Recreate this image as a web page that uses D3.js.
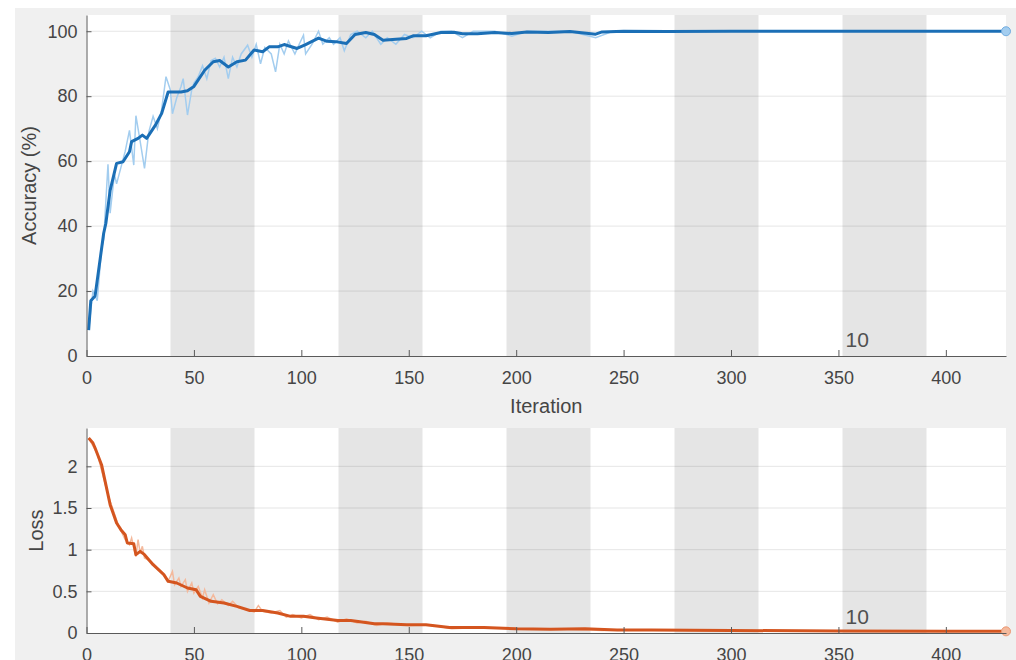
<!DOCTYPE html>
<html>
<head>
<meta charset="utf-8">
<script src="https://cdn.jsdelivr.net/npm/d3@7/dist/d3.min.js"></script>
<style>
    body { margin: 0; background: #fff; }
    text { font-family: "Liberation Sans", Arial, Helvetica, sans-serif; }
</style>
</head>
<body>
<script>

// iteration ticks and epoch bands (shaded = even epochs)
var xTicks = [0, 50, 100, 150, 200, 250, 300, 350, 400];
var bandStart = [39.1, 117.3, 195.5, 273.7, 351.9];
var bandEnd = [78.2, 156.4, 234.6, 312.8, 391];
var epochLabel = "10";
var lastIter = 428;

// accuracy, smoothed
var accIter = [1, 2, 4, 8, 9, 11, 14, 17, 20, 21, 24, 26, 28, 32, 35, 38, 44, 47, 50, 55,
    59, 62, 66, 70, 74, 78, 82, 85, 89, 92, 98, 102, 108, 112, 116, 121, 125, 130, 134, 138,
    144, 149, 152, 158, 165, 171, 175, 182, 190, 198, 205, 215, 225, 237, 240, 250, 270, 300, 350, 400, 428];
var accSmooth = [8, 17, 18.5, 37.8, 40.8, 51, 59.3, 59.8, 62.9, 66, 67, 68, 67, 71, 74.7, 81.3, 81.3, 81.7, 83, 88,
    90.6, 91, 89, 90.6, 91.1, 94.2, 93.7, 95.2, 95.2, 95.9, 94.7, 95.9, 97.9, 96.9, 96.8, 96.2, 99, 99.6, 99, 97.2,
    97.5, 97.8, 98.6, 98.6, 99.6, 99.7, 99.2, 99.2, 99.6, 99.3, 99.8, 99.6, 99.9, 99.1, 99.8, 100, 99.9, 100, 100, 100, 100];

// accuracy, raw
var accRawIter = [1, 3, 5, 7, 8, 10, 11, 12, 13, 14, 16, 18, 20, 22, 23, 25, 27, 29, 31, 33,
    35, 37, 39, 40, 42, 44, 45, 47, 49, 50, 52, 54, 56, 58, 60, 62, 64, 66, 68, 70,
    72, 75, 77, 79, 81, 83, 86, 88, 90, 92, 94, 97, 99, 101, 102, 105, 108, 110, 113, 115,
    118, 120, 123, 126, 130, 133, 137, 140, 144, 148, 152, 156, 160, 165, 170, 175, 180, 190, 198, 205,
    215, 225, 237, 245, 300, 428];
var accRaw = [8, 20, 17, 33, 36, 59, 44, 50, 56, 53, 58, 63, 69.5, 58.8, 74, 66, 57.8, 69, 73.8, 70,
    76, 86, 82, 74.6, 79.5, 83, 85.4, 74.2, 82, 84, 86, 89.4, 85.4, 91, 91.7, 89, 92, 85.4, 92, 89,
    93, 95.7, 92, 96, 90, 95, 93, 87.5, 96, 93, 97, 93, 96, 98.8, 93, 96, 100, 96, 98, 96,
    98, 94, 99, 100, 98, 100, 96, 98, 96, 99, 98, 100, 98, 100, 100, 98, 100, 100, 98.5, 100,
    100, 100, 98, 100, 100, 100];

// loss, smoothed
var lossIter = [1, 3, 4, 7, 9, 11, 14, 16, 18, 19, 22, 23, 25, 27, 31, 36, 38, 42, 47, 51,
    53, 58, 64, 70, 76, 82, 89, 95, 101, 107, 117, 123, 129, 134, 138, 149, 158, 169, 185, 200,
    216, 232, 247, 263, 300, 350, 400, 428];
var lossSmooth = [2.34, 2.28, 2.22, 2.02, 1.78, 1.54, 1.32, 1.24, 1.18, 1.08, 1.07, 0.94, 0.98, 0.94, 0.82, 0.70, 0.62, 0.60, 0.54, 0.52,
    0.44, 0.38, 0.36, 0.32, 0.27, 0.27, 0.24, 0.20, 0.20, 0.18, 0.15, 0.15, 0.13, 0.11, 0.11, 0.10, 0.10, 0.065, 0.065, 0.05,
    0.045, 0.05, 0.035, 0.035, 0.03, 0.025, 0.02, 0.02];

// loss, raw
var lossRawIter = [1, 5, 10, 15, 18, 20, 21, 22, 23, 24, 25, 26, 27, 30, 34, 38, 40, 41, 43, 44,
    46, 47, 49, 50, 52, 54, 55, 57, 59, 61, 63, 66, 68, 71, 75, 78, 80, 82, 86, 90,
    93, 96, 100, 104, 108, 112, 117, 121, 126, 130, 135, 140, 150, 160, 170, 185, 200, 220, 240, 260,
    300, 350, 428];
var lossRaw = [2.34, 2.15, 1.66, 1.28, 1.12, 1.06, 1.14, 1.02, 0.92, 1.12, 0.96, 1.04, 0.90, 0.86, 0.76, 0.62, 0.74, 0.58, 0.66, 0.56,
    0.64, 0.50, 0.60, 0.48, 0.56, 0.42, 0.52, 0.36, 0.46, 0.35, 0.40, 0.33, 0.38, 0.30, 0.28, 0.25, 0.33, 0.26, 0.24, 0.27,
    0.19, 0.22, 0.18, 0.22, 0.16, 0.19, 0.13, 0.17, 0.12, 0.14, 0.09, 0.12, 0.09, 0.10, 0.05, 0.07, 0.045, 0.05, 0.03, 0.04,
    0.02, 0.025, 0.02];

var width = 1016, height = 660;
var left = 86.5, right = 1006;

var svg = d3.select("body").append("svg")
        .attr("width", width)
        .attr("height", height);

// figure background
svg.append("rect")
        .attr("x", 15).attr("y", 8)
        .attr("width", width - 15).attr("height", height - 8)
        .attr("fill", "#f0f0f0");

var x = d3.scaleLinear().domain([0, lastIter]).range([left, right]);

function zip(a, b) {
    return a.map(function (d, i) { return [d, b[i]]; });
}

function panel(opts) {
    var y = d3.scaleLinear().domain(opts.yDomain).range([opts.bottom, opts.top]);
    var g = svg.append("g");

    g.append("clipPath").attr("id", opts.id)
            .append("rect")
            .attr("x", left).attr("y", opts.top)
            .attr("width", right - left).attr("height", opts.bottom - opts.top);

    g.append("rect")
            .attr("x", left).attr("y", opts.top)
            .attr("width", right - left).attr("height", opts.bottom - opts.top)
            .attr("fill", "#fff");

    g.selectAll(".band")
            .data(bandStart)
            .enter().append("rect")
            .attr("x", function (d) { return x(d); })
            .attr("y", opts.top)
            .attr("width", function (d, i) { return x(bandEnd[i]) - x(d); })
            .attr("height", opts.bottom - opts.top)
            .attr("fill", "#e5e5e5");

    g.selectAll(".grid")
            .data(opts.yTicks.filter(function (d) { return d > 0; }))
            .enter().append("line")
            .attr("x1", left).attr("x2", right)
            .attr("y1", function (d) { return y(d); })
            .attr("y2", function (d) { return y(d); })
            .attr("stroke", "#000")
            .attr("stroke-opacity", 0.1);

    var line = d3.line()
            .x(function (d) { return x(d[0]); })
            .y(function (d) { return y(d[1]); });

    var plot = g.append("g").attr("clip-path", "url(#" + opts.id + ")");

    plot.append("path")
            .attr("d", line(zip(opts.rawX, opts.rawY)))
            .attr("fill", "none")
            .attr("stroke", opts.rawColor)
            .attr("stroke-width", 1.5);

    plot.append("path")
            .attr("d", line(zip(opts.smX, opts.smY)))
            .attr("fill", "none")
            .attr("stroke", opts.color)
            .attr("stroke-width", 3)
            .attr("stroke-linejoin", "round");

    g.append("circle")
            .attr("cx", x(opts.smX[opts.smX.length - 1]))
            .attr("cy", y(opts.smY[opts.smY.length - 1]))
            .attr("r", 4.5)
            .attr("fill", opts.rawColor)
            .attr("stroke", opts.markColor)
            .attr("stroke-width", 1);

    var xAxis = g.append("g")
            .attr("transform", "translate(0," + opts.bottom + ")")
            .call(d3.axisBottom(x).tickValues(xTicks).tickSizeInner(-6).tickSizeOuter(0).tickPadding(15));
    var yAxis = g.append("g")
            .attr("transform", "translate(" + left + ",0)")
            .call(d3.axisLeft(y).tickValues(opts.yTicks).tickFormat(d3.format("~g"))
                    .tickSizeInner(-5).tickSizeOuter(0).tickPadding(9));

    [xAxis, yAxis].forEach(function (a) {
        a.select(".domain").attr("stroke", "#5a5a5a");
        a.selectAll(".tick line").attr("stroke", "#5a5a5a");
        a.selectAll(".tick text")
                .attr("fill", "#454545")
                .style("font-size", "18px")
                .style("font-family", "'Liberation Sans', Arial, sans-serif");
    });

    g.append("text")
            .attr("x", x(bandStart[4]) + 3)
            .attr("y", opts.bottom - 9)
            .attr("fill", "#505050")
            .style("font-size", "21px")
            .text(epochLabel);

    g.append("text")
            .attr("transform", "translate(" + opts.labelX + "," + ((opts.top + opts.bottom) / 2) + ") rotate(-90)")
            .attr("text-anchor", "middle")
            .attr("fill", "#454545")
            .style("font-size", "20px")
            .text(opts.label);
}

panel({
    id: "clipAcc", top: 15, bottom: 356,
    yDomain: [0, 105], yTicks: [0, 20, 40, 60, 80, 100],
    rawX: accRawIter, rawY: accRaw, smX: accIter, smY: accSmooth,
    color: "#1b6fb6", rawColor: "#a3cdef", markColor: "#74aee0",
    label: "Accuracy (%)", labelX: 36
});

panel({
    id: "clipLoss", top: 428, bottom: 633,
    yDomain: [0, 2.46], yTicks: [0, 0.5, 1, 1.5, 2],
    rawX: lossRawIter, rawY: lossRaw, smX: lossIter, smY: lossSmooth,
    color: "#d4551f", rawColor: "#f4b99c", markColor: "#eb9a76",
    label: "Loss", labelX: 43
});

svg.append("text")
        .attr("x", (left + right) / 2)
        .attr("y", 413)
        .attr("text-anchor", "middle")
        .attr("fill", "#454545")
        .style("font-size", "20px")
        .text("Iteration");

</script>
</body>
</html>
